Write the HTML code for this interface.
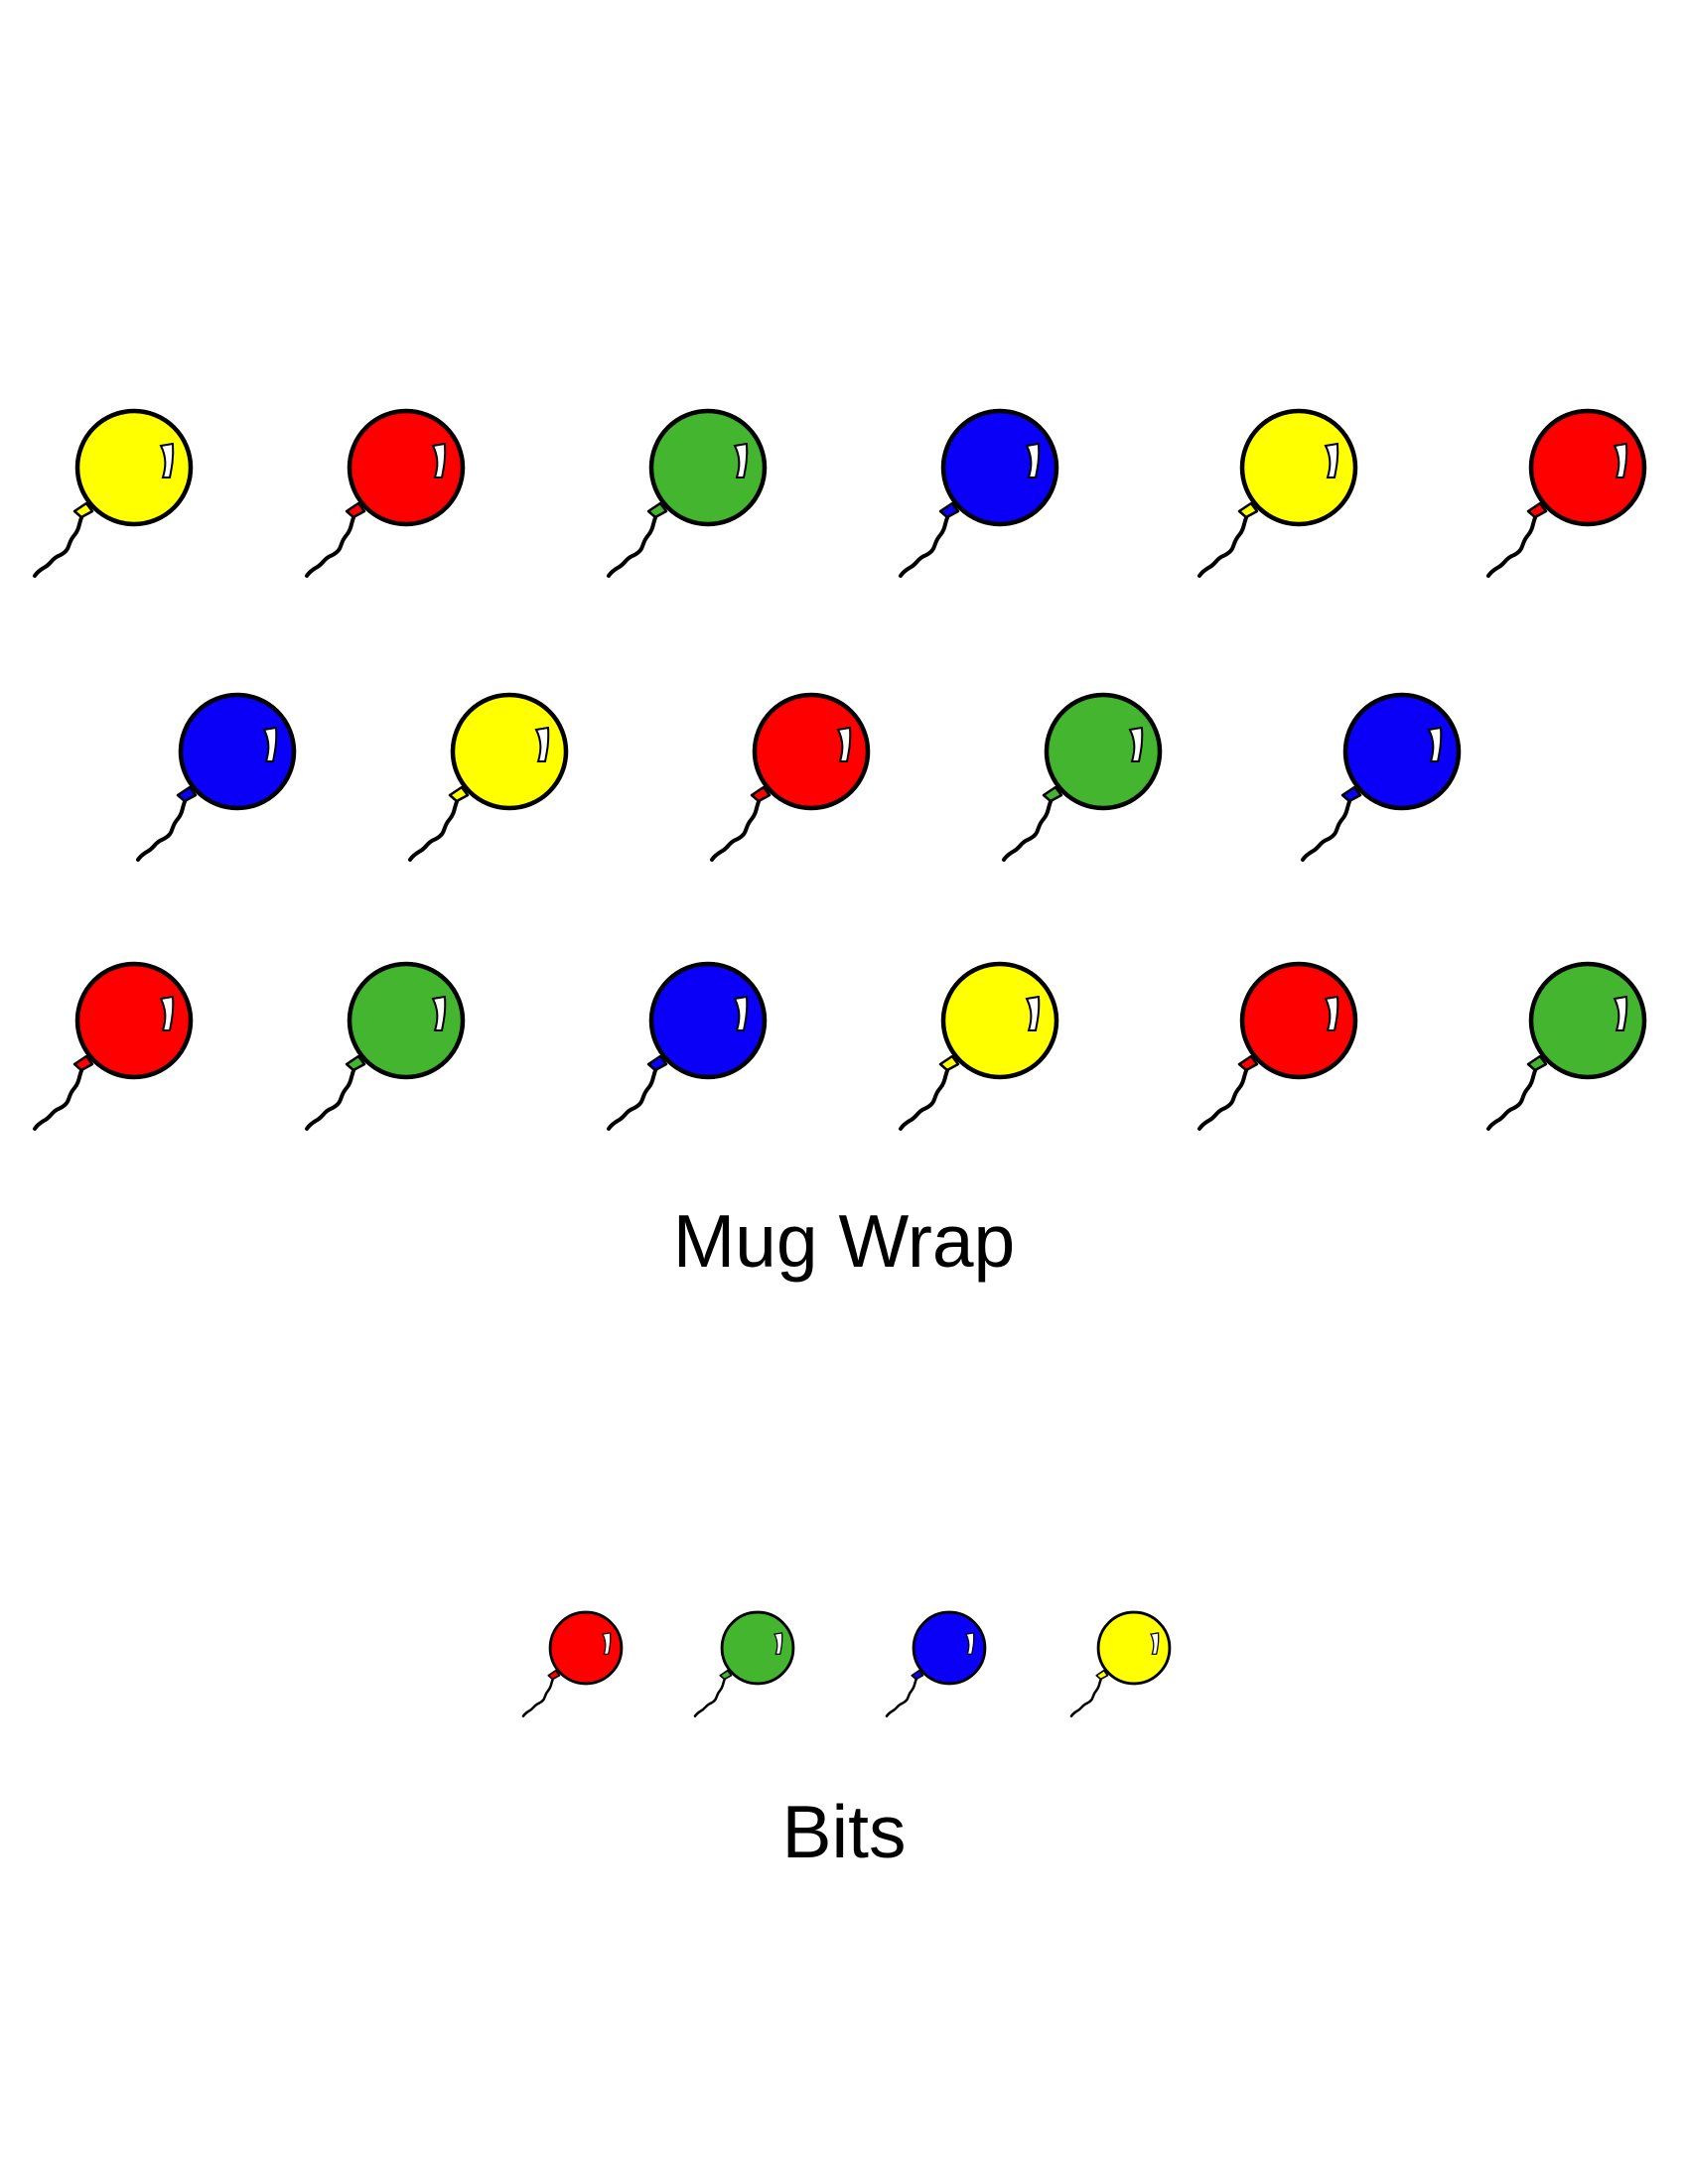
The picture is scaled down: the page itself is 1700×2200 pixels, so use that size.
<!DOCTYPE html>
<html><head><meta charset="utf-8">
<style>
html,body{margin:0;padding:0;background:#fff;}
body{width:1700px;height:2200px;position:relative;overflow:hidden;}
.t{position:absolute;left:0;width:1700px;text-align:center;font-family:"Liberation Sans","DejaVu Sans",sans-serif;color:#000;}
</style></head>
<body>
<svg width="1700" height="2200" style="position:absolute;left:0;top:0">
<defs>
<g id="b">
  <path d="M-50,44 C-56,54 -54,61 -60,68 C-68,77 -63,82 -74,88 C-84,92 -83,97 -91,101 C-96,104 -98,106 -100,109" fill="none" stroke="#000" stroke-width="4" stroke-linecap="round"/>
  <path d="M-48,36 L-60,44 L-53,50 L-42,44 Z" fill="currentColor" stroke="#000" stroke-width="2.5" stroke-linejoin="round"/>
  <circle r="57" fill="currentColor" stroke="#000" stroke-width="4.5"/>
  <path d="M27,-22 L39,-24 C40,-10 38,0 36,10 L29,10 C32,0 33,-10 27,-22 Z" fill="#fff" stroke="#000" stroke-width="2"/>
</g>
</defs>
<g style="color:#ffff00"><use href="#b" transform="translate(135,471)"/></g>
<g style="color:#ff0000"><use href="#b" transform="translate(409,471)"/></g>
<g style="color:#43b52f"><use href="#b" transform="translate(713,471)"/></g>
<g style="color:#0a00f8"><use href="#b" transform="translate(1007,471)"/></g>
<g style="color:#ffff00"><use href="#b" transform="translate(1308,471)"/></g>
<g style="color:#ff0000"><use href="#b" transform="translate(1599,471)"/></g>

<g style="color:#0a00f8"><use href="#b" transform="translate(239,757)"/></g>
<g style="color:#ffff00"><use href="#b" transform="translate(513,757)"/></g>
<g style="color:#ff0000"><use href="#b" transform="translate(817,757)"/></g>
<g style="color:#43b52f"><use href="#b" transform="translate(1111,757)"/></g>
<g style="color:#0a00f8"><use href="#b" transform="translate(1412,757)"/></g>

<g style="color:#ff0000"><use href="#b" transform="translate(135,1028)"/></g>
<g style="color:#43b52f"><use href="#b" transform="translate(409,1028)"/></g>
<g style="color:#0a00f8"><use href="#b" transform="translate(713,1028)"/></g>
<g style="color:#ffff00"><use href="#b" transform="translate(1007,1028)"/></g>
<g style="color:#ff0000"><use href="#b" transform="translate(1308,1028)"/></g>
<g style="color:#43b52f"><use href="#b" transform="translate(1599,1028)"/></g>

<g style="color:#ff0000"><use href="#b" transform="translate(590,1660) scale(0.63)"/></g>
<g style="color:#43b52f"><use href="#b" transform="translate(763,1660) scale(0.63)"/></g>
<g style="color:#0a00f8"><use href="#b" transform="translate(956,1660) scale(0.63)"/></g>
<g style="color:#ffff00"><use href="#b" transform="translate(1142,1660) scale(0.63)"/></g>
</svg>
<div class="t" style="top:1205px;font-size:75px;line-height:90px;">Mug Wrap</div>
<div class="t" style="top:1800px;font-size:75px;line-height:90px;">Bits</div>
</body></html>
